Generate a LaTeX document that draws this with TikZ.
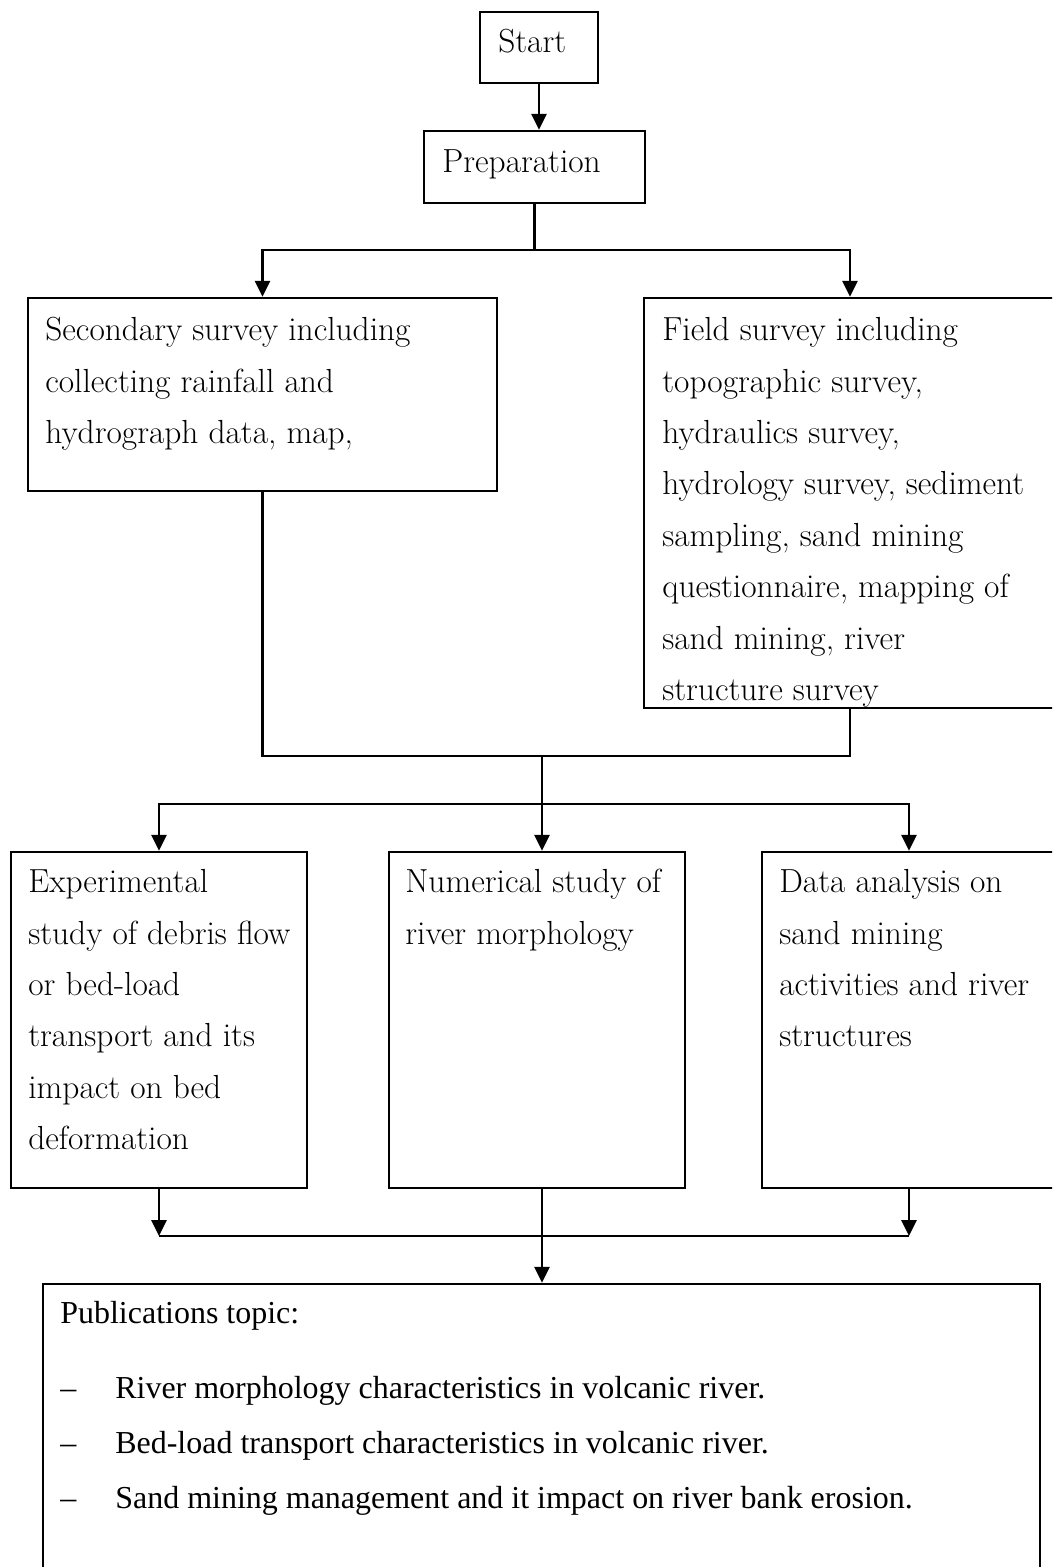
\documentclass[tikz,border=0pt]{standalone}
\usepackage{fontspec}
\newfontfamily\pubfont[Ligatures=TeX]{Liberation Serif}
\usetikzlibrary{arrows.meta, positioning, calc, fit}

\begin{document}
\begin{tikzpicture}[x=0.02cm, y=-0.02cm, >={Triangle[length=9pt, width=8.5pt]},
    box/.style={draw, line width=1.4pt, inner sep=0pt},
    txt/.style={anchor=north west, align=left, inner sep=0pt, font=\fontsize{19}{29.3}\selectfont},
    pub/.style={anchor=north west, align=left, inner sep=0pt, font=\pubfont\fontsize{18.2}{31.3}\selectfont},
    line/.style={line width=1.4pt}]

    % Page frame
    \useasboundingbox (0,0) rectangle (1052,1567);
    \clip (0,0) rectangle (1052,1567);

    % Boxes
    \node[box, fit={(480,12) (598,83)}] (start) {};
    \node[box, fit={(424,131) (645,203)}] (prep) {};
    \node[box, fit={(28,298) (497,491)}] (second) {};
    \node[box, fit={(644,298) (1056,708)}] (field) {};
    \node[box, fit={(11,852) (307,1188)}] (exper) {};
    \node[box, fit={(389,852) (685,1188)}] (numer) {};
    \node[box, fit={(762,852) (1056,1188)}] (data) {};
    \node[box, fit={(43,1284) (1040,1620)}] (pubs) {};

    % Texts
    \node[txt] (startT) at (498,29) {Start};
    \node[txt] (prepT) at (442,149) {Preparation};
    \node[txt] (secondT) at (45,317) {Secondary survey including\\
        collecting rainfall and\\hydrograph data, map,};
    \node[txt] (fieldT) at (662,317) {Field survey including\\topographic survey,\\
        hydraulics survey,\\hydrology survey, sediment\\sampling, sand mining\\
        questionnaire, mapping of\\sand mining, river\\structure survey};
    \node[txt] (experT) at (28,869) {Experimental\\study of debris flow\\or bed-load\\
        transport and its\\impact on bed\\deformation};
    \node[txt] (numerT) at (405,869) {Numerical study of\\river morphology};
    \node[txt] (dataT) at (779,869) {Data analysis on\\sand mining\\
        activities and river\\structures};
    \node[pub] (pubsT) at (60,1301) {Publications topic:\\[11.4pt]
        \makebox[1.1cm][l]{\textendash}River morphology characteristics in volcanic river.\\
        \makebox[1.1cm][l]{\textendash}Bed-load transport characteristics in volcanic river.\\
        \makebox[1.1cm][l]{\textendash}Sand mining management and it impact on river bank erosion.};

    % Junction points
    \coordinate (split1) at (536,250);
    \coordinate (merge1) at (542,756);
    \coordinate (split2) at (542,804);
    \coordinate (merge2) at (542,1236);

    % Connectors
    \draw[line, ->] (start.south) -- (start.south |- prep.north);
    \draw[line] (prep.south) -- (prep.south |- split1);
    \draw[line, ->] (split1) -| (second.north);
    \draw[line, ->] (split1) -| (field.north);
    \draw[line] (second.south) |- (merge1);
    \draw[line] (field.south) |- (merge1);
    \draw[line] (merge1) -- (split2);
    \draw[line, ->] (split2) -| (exper.north);
    \draw[line, ->] (split2) -- (split2 |- numer.north);
    \draw[line, ->] (split2) -| (data.north);
    \draw[line, ->] (exper.south) -- (exper.south |- merge2);
    \draw[line, ->] (data.south) -- (data.south |- merge2);
    \draw[line] (exper.south |- merge2) -- (data.south |- merge2);
    \draw[line] (merge2 |- numer.south) -- (merge2);
    \draw[line, ->] (merge2) -- (merge2 |- pubs.north);

\end{tikzpicture}
\end{document}
